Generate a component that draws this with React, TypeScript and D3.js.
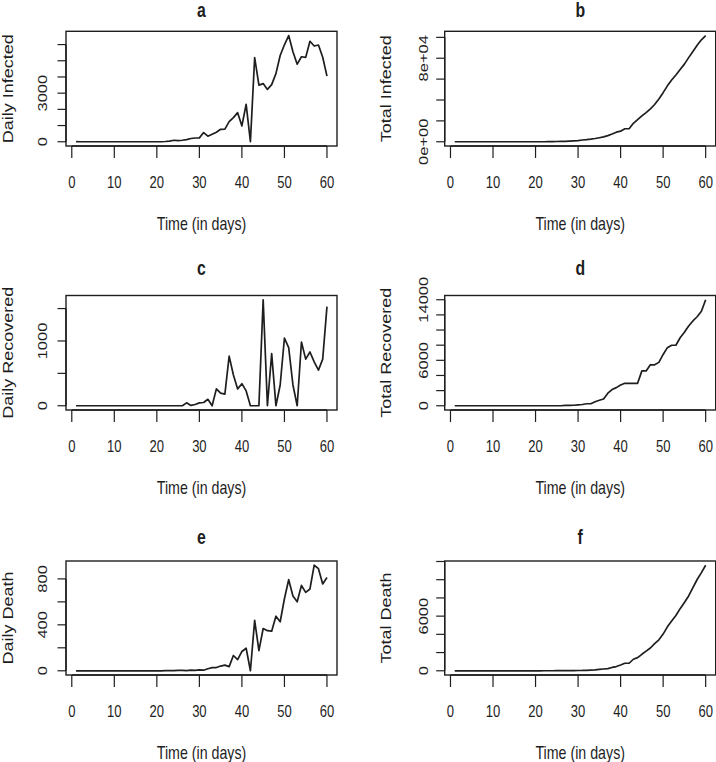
import React from 'react';
import * as d3 from 'd3';

// ---------- data (day 1..60) ----------
const days = [
  1, 2, 3, 4, 5, 6, 7, 8, 9, 10, 11, 12, 13, 14, 15, 16, 17, 18, 19, 20,
  21, 22, 23, 24, 25, 26, 27, 28, 29, 30, 31, 32, 33, 34, 35, 36, 37, 38, 39, 40,
  41, 42, 43, 44, 45, 46, 47, 48, 49, 50, 51, 52, 53, 54, 55, 56, 57, 58, 59, 60,
];

const dailyInfected = [
  2, 0, 0, 0, 0, 0, 0, 1, 0, 0, 0, 0, 0, 0, 0, 0, 0, 0, 0, 0, 0,
  17, 42, 93, 74, 93, 131, 202, 233, 240,
  566, 342, 466, 587, 769, 778, 1247, 1492, 1797, 977,
  2313, 0, 5198, 3497, 3590, 3233, 3526, 4207, 5322, 5986,
  6557, 5560, 4789, 5249, 5210, 6203, 5909, 5974, 5217, 4050,
];

const totalInfected = [
  2, 2, 2, 2, 2, 2, 2, 3, 3, 3, 3, 3, 3, 3, 3, 3, 3, 3, 3, 3, 3,
  20, 62, 155, 229, 322, 453, 655, 888, 1128,
  1694, 2036, 2502, 3089, 3858, 4636, 5883, 7375, 9172, 10149,
  12462, 12462, 17660, 21157, 24747, 27980, 31506, 35713, 41035, 47021,
  53578, 59138, 63927, 69176, 74386, 80589, 86498, 92472, 97689, 101739,
];

const dailyRecovered = [
  0, 0, 0, 0, 0, 0, 0, 0, 0, 0, 0, 0, 0, 0, 0, 0, 0, 0, 0, 0, 0, 0, 0, 0, 0, 0,
  45, 5, 20, 45,
  50, 100, 0, 260, 194, 179, 765, 474, 260, 341,
  229, 0, 0, 0, 1636, 0, 805, 0, 321, 1045,
  897, 321, 0, 983, 719, 830, 677, 550, 719, 1529,
];

const totalRecovered = [
  0, 0, 0, 0, 0, 0, 0, 0, 0, 0, 0, 0, 0, 0, 0, 0, 0, 0, 0, 0, 0, 0, 0, 0, 0, 0,
  45, 50, 70, 115,
  165, 265, 265, 525, 719, 898, 1663, 2137, 2397, 2738,
  2967, 2967, 2967, 2967, 4603, 4603, 5408, 5408, 5729, 6774,
  7671, 7992, 7992, 8975, 9694, 10524, 11201, 11751, 12470, 13999,
];

const dailyDeath = [
  0, 0, 0, 0, 0, 0, 0, 0, 0, 0, 0, 0, 0, 0, 0, 0, 0, 0, 0, 0, 0,
  1, 1, 1, 4, 3, 2, 5, 4, 8,
  5, 18, 27, 28, 41, 49, 36, 133, 97, 168,
  196, 0, 439, 175, 368, 349, 345, 475, 427, 627,
  793, 651, 601, 743, 683, 712, 919, 889, 756, 812,
];

const totalDeath = [
  0, 0, 0, 0, 0, 0, 0, 0, 0, 0, 0, 0, 0, 0, 0, 0, 0, 0, 0, 0, 0,
  1, 2, 3, 7, 10, 12, 17, 21, 29,
  34, 52, 79, 107, 148, 197, 233, 366, 463, 631,
  827, 827, 1266, 1441, 1809, 2158, 2503, 2978, 3405, 4032,
  4825, 5476, 6077, 6820, 7503, 8215, 9134, 10023, 10779, 11591,
];

const xTicks = [0, 10, 20, 30, 40, 50, 60];

const ticksA = [0, 1000, 2000, 3000, 4000, 5000, 6000];
const labelsA = [0, 3000];
const ticksB = [0, 20000, 40000, 60000, 80000, 100000];
const labelsB = [0, 80000];
const ticksC = [0, 500, 1000, 1500];
const labelsC = [0, 1000];
const ticksD = [0, 2000, 4000, 6000, 8000, 10000, 12000, 14000];
const labelsD = [0, 6000, 14000];
const ticksE = [0, 200, 400, 600, 800];
const labelsE = [0, 400, 800];
const ticksF = [0, 2000, 4000, 6000, 8000, 10000, 12000];
const labelsF = [0, 6000];

const titles = ['a', 'b', 'c', 'd', 'e', 'f'];
const yTitles = [
  'Daily Infected', 'Total Infected',
  'Daily Recovered', 'Total Recovered',
  'Daily Death', 'Total Death',
];
const xTitle = 'Time (in days)';

// ---------- layout ----------
const W = 716;
const H = 762;
const colLeft = [66, 444.7];
const boxW = 271;
const rowTop = [31.3, 295.5, 561];
const rowBottom = [146, 410, 675];
const titleBase = [16.5, 275, 543.5];
const yTickLabelOff = [19, 16.5];
const SQ = 0.79; // horizontal squeeze of glyphs
const INK = '#1e1e1e';
const FONT = '"Liberation Sans", Arial, Helvetica, sans-serif';

const sci = (v: number) => {
  if (v === 0) return '0e+00';
  const e = Math.floor(Math.log10(Math.abs(v)));
  const m = Math.round(v / Math.pow(10, e));
  const es = (e < 0 ? '-' : '+') + String(Math.abs(e)).padStart(2, '0');
  return `${m}e${es}`;
};

function Txt({ x, y, children, size, rot = 0, weight = 'normal', anchor = 'middle' }: any) {
  return (
    <text
      transform={`translate(${x},${y}) scale(${SQ},1) rotate(${rot})`}
      fontSize={size}
      fontWeight={weight}
      textAnchor={anchor}
      fontFamily={FONT}
      fill={INK}
    >
      {children}
    </text>
  );
}

function Panel({ idx, values, ticks, labels, fmt }: any) {
  const col = idx % 2;
  const row = Math.floor(idx / 2);
  const left = colLeft[col];
  const right = left + boxW;
  const top = rowTop[row];
  const bottom = rowBottom[row];

  const xr = 60 - 1;
  const x = d3.scaleLinear().domain([1 - 0.04 * xr, 60 + 0.04 * xr]).range([left, right]);
  const [mn, mx] = d3.extent(values as number[]) as [number, number];
  const yr = mx - mn;
  const y = d3.scaleLinear().domain([mn - 0.04 * yr, mx + 0.04 * yr]).range([bottom, top]);

  const line = d3
    .line<number>()
    .x((_, i) => x(days[i]))
    .y((d) => y(d));

  const tickLenY = 8.5;
  const tickLenX = 12;
  const cx = (left + right) / 2;
  const cy = (top + bottom) / 2;

  return (
    <g>
      <Txt x={cx} y={titleBase[row]} size={20} weight="bold">{titles[idx]}</Txt>
      <rect x={left} y={top} width={boxW} height={bottom - top} fill="none" stroke={INK} strokeWidth={1.4} />
      <path d={line(values) || ''} fill="none" stroke={INK} strokeWidth={1.7} strokeLinejoin="round" />
      {/* x axis */}
      <line x1={x(xTicks[0])} x2={x(xTicks[xTicks.length - 1])} y1={bottom} y2={bottom} stroke={INK} strokeWidth={1.4} />
      {xTicks.map((t) => (
        <g key={'x' + t}>
          <line x1={x(t)} x2={x(t)} y1={bottom} y2={bottom + tickLenX} stroke={INK} strokeWidth={1.2} />
          <Txt x={x(t)} y={bottom + 42} size={16.5}>{String(t)}</Txt>
        </g>
      ))}
      <Txt x={cx} y={bottom + 84} size={18}>{xTitle}</Txt>
      {/* y axis */}
      <line x1={left} x2={left} y1={y(ticks[0])} y2={y(ticks[ticks.length - 1])} stroke={INK} strokeWidth={1.4} />
      {ticks.map((t: number) => (
        <line key={'y' + t} x1={left - tickLenY} x2={left} y1={y(t)} y2={y(t)} stroke={INK} strokeWidth={1.2} />
      ))}
      {labels.map((t: number) => (
        <Txt key={'yl' + t} x={left - yTickLabelOff[col]} y={y(t)} size={16.5} rot={-90}>
          {fmt ? fmt(t) : String(t)}
        </Txt>
      ))}
      <Txt x={left - 53.5} y={cy} size={18} rot={-90}>{yTitles[idx]}</Txt>
    </g>
  );
}

export default function App() {
  return (
    <svg
      width={W}
      height={H}
      viewBox={`0 0 ${W} ${H}`}
      style={{ position: 'absolute', left: 0, top: 0, background: '#fff' }}
    >
      <rect x={0} y={0} width={W} height={H} fill="#fff" />
      <Panel idx={0} values={dailyInfected} ticks={ticksA} labels={labelsA} />
      <Panel idx={1} values={totalInfected} ticks={ticksB} labels={labelsB} fmt={sci} />
      <Panel idx={2} values={dailyRecovered} ticks={ticksC} labels={labelsC} />
      <Panel idx={3} values={totalRecovered} ticks={ticksD} labels={labelsD} />
      <Panel idx={4} values={dailyDeath} ticks={ticksE} labels={labelsE} />
      <Panel idx={5} values={totalDeath} ticks={ticksF} labels={labelsF} />
    </svg>
  );
}
